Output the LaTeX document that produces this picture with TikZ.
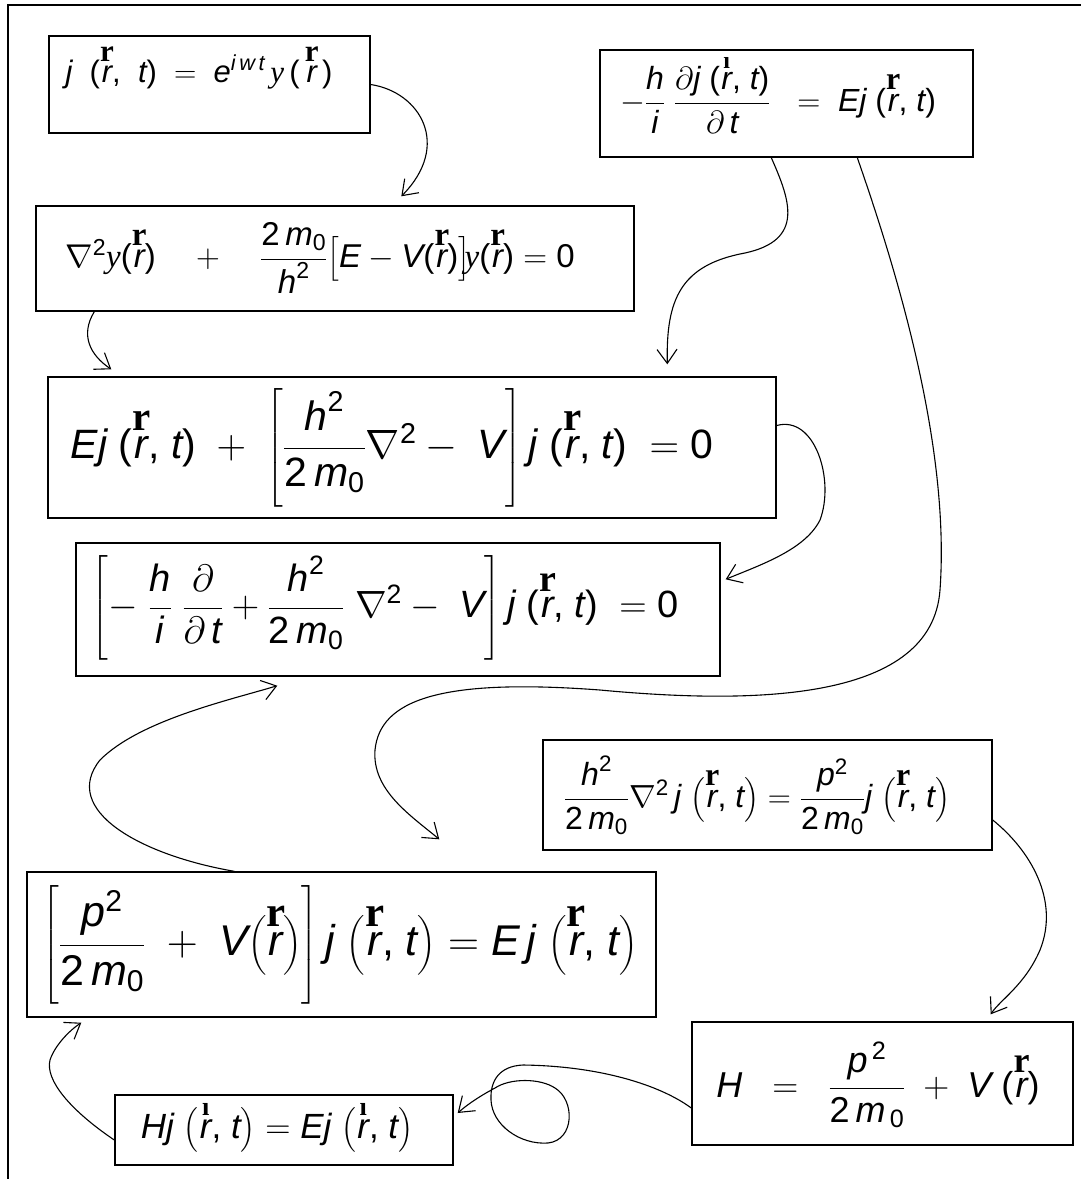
\RequirePackage{fix-cm}
\documentclass[tikz,border=0pt]{standalone}
\usepackage{amsmath}
\usepackage{fontspec}
\setmainfont{Liberation Sans}
\newfontfamily\seriffam{Liberation Serif}
\usetikzlibrary{arrows.meta,calc}

\newcommand\tv[1]{\text{\itshape #1}}
\newcommand\rvec{\text{\kern0.06em\hbox{\ooalign{\itshape r\cr\hidewidth\raisebox{0.68em}{\seriffam\upshape\bfseries r}\hidewidth\cr}}}}
\newcommand\rvecd{\text{\kern0.04em\hbox{\ooalign{\itshape r\cr\hidewidth\raisebox{0.66em}{\seriffam\upshape\bfseries\scalebox{0.75}{ı}}\hidewidth\cr}}}}
\newcommand\yps{\text{\seriffam\itshape y}}
\newcommand\lp{\text{(}}
\newcommand\rp{\text{)}}
\newcommand\sq{^{\text{2}}}
\newcommand\mo{\tv{m}_{\text{0}}}
\newcommand\cm{\text{, }}

\begin{document}
\begin{tikzpicture}[x=1pt,y=-1pt,
  box/.style={draw,line width=1.4pt,inner sep=0pt},
  eq/.style={inner sep=0pt},
  conn/.style={line width=1.1pt},
  arr/.style={conn,-{Straight Barb[length=14pt,width=20pt]}}]
\useasboundingbox (0,0) rectangle (1081,1179);
\draw[line width=1.5pt] (1081,5) -- (8,5) -- (8,1179);

% boxes
\node[box,minimum width=321pt,minimum height=97pt] (A) at (209.5,84.5) {};
\node[box,minimum width=373pt,minimum height=107pt] (B) at (786.5,103.5) {};
\node[box,minimum width=598pt,minimum height=105pt] (C) at (335,258.5) {};
\node[box,minimum width=728pt,minimum height=141pt] (D) at (412,447.5) {};
\node[box,minimum width=644pt,minimum height=133pt] (E) at (398,609.5) {};
\node[box,minimum width=449pt,minimum height=110pt] (F) at (767.5,795) {};
\node[box,minimum width=629pt,minimum height=145pt] (G) at (341.5,944.5) {};
\node[box,minimum width=381pt,minimum height=123pt] (H) at (882.5,1083.5) {};
\node[box,minimum width=338pt,minimum height=70pt] (I) at (284,1130) {};

% equations
\node[eq,font=\fontsize{31}{36}\selectfont] (tA) at (199,72)
  {$\tv{j}\;\;\lp\rvec\cm\;\tv{t}\rp\;=\;\tv{e}^{\tv{i\,w\,t}}\,\yps\,\lp\,\rvec\,\rp$};
\node[eq,font=\fontsize{32}{38}\selectfont] (tB) at (778,100)
  {$-\dfrac{\tv{h}}{\tv{i}}\;\dfrac{\partial\tv{j}\;\lp\rvecd\cm\tv{t}\rp}{\partial\,\tv{t}}\;\;=\;\tv{E}\tv{j}\;\lp\rvec\cm\tv{t}\rp$};
\node[eq,font=\fontsize{33}{38}\selectfont] (tC) at (320,258)
  {$\nabla\sq\yps\lp\rvec\rp\quad+\quad\dfrac{\text{2}\,\mo}{\tv{h}\sq}\bigl[\tv{E}-\tv{V}\lp\rvec\rp\bigr]\!\yps\lp\rvec\rp=\text{0}$};
\node[eq,font=\fontsize{41}{48}\selectfont] (tD) at (392,448)
  {$\tv{E}\tv{j}\;\lp\rvec\cm\tv{t}\rp\;+\;\left[\dfrac{\tv{h}\sq}{\text{2}\,\mo}\nabla\sq-\;\tv{V}\right]\tv{j}\;\lp\rvec\cm\tv{t}\rp\;=\text{0}$};
\node[eq,font=\fontsize{38}{44}\selectfont] (tE) at (385,608)
  {$\left[-\;\dfrac{\tv{h}}{\tv{i}}\;\dfrac{\partial}{\partial\,\tv{t}}+\dfrac{\tv{h}\sq}{\text{2}\,\mo}\;\nabla\sq-\;\tv{V}\right]\tv{j}\;\lp\rvec\cm\tv{t}\rp\;=\text{0}$};
\node[eq,font=\fontsize{32}{38}\selectfont] (tF) at (757,795)
  {$\dfrac{\tv{h}\sq}{\text{2}\,\mo}\nabla\sq\,\tv{j}\;\bigl(\rvec\cm\tv{t}\bigr)=\dfrac{\tv{p}\sq}{\text{2}\,\mo}\tv{j}\;\bigl(\rvec\cm\tv{t}\bigr)$};
\node[eq,font=\fontsize{43}{50}\selectfont] (tG) at (340,945)
  {$\left[\dfrac{\tv{p}\sq}{\text{2}\,\mo}\;+\;\tv{V}\bigl(\rvec\bigr)\right]\tv{j}\;\bigl(\rvec\cm\tv{t}\bigr)=\tv{E}\,\tv{j}\;\bigl(\rvec\cm\tv{t}\bigr)$};
\node[eq,font=\fontsize{36}{42}\selectfont] (tH) at (878,1085)
  {$\tv{H}\;\;=\;\;\dfrac{\tv{p}^{\,\text{2}}}{\text{2}\,\tv{m}_{\,\text{0}}}\;+\;\tv{V}\;\lp\rvec\rp$};
\node[eq,font=\fontsize{35}{41}\selectfont] (tI) at (277,1130)
  {$\tv{H}\tv{j}\;\bigl(\rvecd\cm\tv{t}\bigr)=\tv{E}\tv{j}\;\bigl(\rvecd\cm\tv{t}\bigr)$};

% connectors
\draw[arr] (A.east) .. controls (420,92) and (452,145) .. ($(C.north west)+(366,-9)$);
\draw[arr] ($(B.south west)+(172,0)$) .. controls (790,200) and (805,240) .. (745,253)
   .. controls (680,265) and (666,300) .. ($(D.north west)+(620,-12)$);
\draw[arr] ($(B.south west)+(258,0)$) .. controls (900,280) and (950,450) .. (940,590)
   .. controls (932,700) and (760,705) .. (600,690)
   .. controls (440,678) and (380,700) .. (375,750)
   .. controls (372,790) and (410,815) .. ($(G.north west)+(413,-32)$);
\draw[arr] ($(C.south west)+(59,0)$) .. controls (80,335) and (90,355) .. ($(D.north west)+(64,-7)$);
\draw[arr] ($(D.east)+(0,-22)$) .. controls (815,415) and (835,480) .. (820,520)
   .. controls (805,550) and (760,565) .. ($(E.north east)+(5,37)$);
\draw[arr] ($(G.north west)+(208,0)$) .. controls (140,855) and (60,810) .. (100,760)
   .. controls (140,720) and (230,700) .. ($(E.south west)+(202,9)$);
\draw[arr] ($(F.east)+(0,25)$) .. controls (1030,850) and (1060,900) .. (1040,950)
   .. controls (1025,985) and (1000,1000) .. ($(H.north east)+(-83,-7)$);
\draw[arr] ($(H.west)+(0,24.5)$) .. controls (660,1085) and (600,1066) .. (523,1065)
   .. controls (500,1066) and (490,1080) .. (491,1100)
   .. controls (492,1125) and (520,1145) .. (548,1143)
   .. controls (575,1140) and (575,1100) .. (555,1088)
   .. controls (540,1078) and (510,1078) .. (495,1088)
   .. controls (480,1096) and (468,1104) .. ($(I.east)+(4,-17)$);
\draw[arr] ($(I.west)+(0,10)$) .. controls (70,1110) and (45,1080) .. (50,1060)
   .. controls (55,1045) and (70,1030) .. ($(G.south west)+(55,5)$);
\end{tikzpicture}
\end{document}
